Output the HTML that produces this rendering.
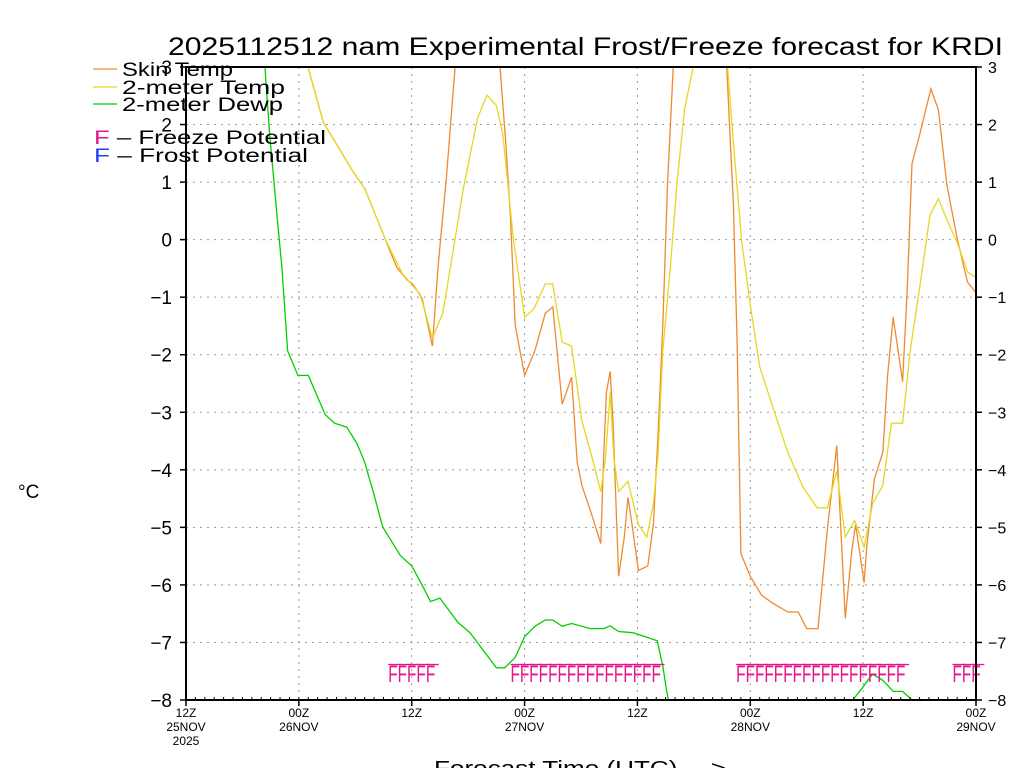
<!DOCTYPE html>
<html><head><meta charset="utf-8"><style>
body{margin:0;background:#fff;}
svg{display:block;font-family:"Liberation Sans",sans-serif;}
</style></head><body>
<svg id="chart" width="1024" height="768" viewBox="0 0 1024 768" xmlns="http://www.w3.org/2000/svg">
<defs><clipPath id="plotclip"><rect x="186" y="67" width="790" height="633"/></clipPath></defs>
<text x="168" y="55" font-size="25" textLength="835" lengthAdjust="spacingAndGlyphs">2025112512 nam Experimental Frost/Freeze forecast for KRDI</text>
<g id="grid"></g>
<g id="series" clip-path="url(#plotclip)"></g>
<g id="marks"></g>
<rect x="186" y="67" width="790" height="633" fill="none" stroke="#000" stroke-width="2"/>
<g id="axes"></g>
<text x="18" y="498" font-size="19">°C</text>
<text x="434" y="775" font-size="20" textLength="292" lengthAdjust="spacingAndGlyphs">Forecast Time (UTC) ---&gt;</text>
<g>
<line x1="93" y1="69" x2="117" y2="69" stroke="#f08a30" stroke-width="1.2"/>
<text x="122" y="76" font-size="19" textLength="111" lengthAdjust="spacingAndGlyphs">Skin Temp</text>
<line x1="93" y1="87" x2="117" y2="87" stroke="#e6d820" stroke-width="1.2"/>
<text x="122" y="94" font-size="19" textLength="163" lengthAdjust="spacingAndGlyphs">2-meter Temp</text>
<line x1="93" y1="104" x2="117" y2="104" stroke="#00d000" stroke-width="1.2"/>
<text x="122" y="111" font-size="19" textLength="161" lengthAdjust="spacingAndGlyphs">2-meter Dewp</text>
<text x="94" y="144" font-size="19" textLength="232" lengthAdjust="spacingAndGlyphs"><tspan fill="#e8148c">F</tspan> – Freeze Potential</text>
<text x="94" y="162" font-size="19" textLength="214" lengthAdjust="spacingAndGlyphs"><tspan fill="#2040ff">F</tspan> – Frost Potential</text>
</g>
</svg>
<script>
const tempHours=[13,14.6,17.8,19,21.2,23,24.9,26.2,27.3,29.5,31,32,33,33.7,34.8,36,37,38.2,39,40,41,42.1,43.2,44.1,44.6,45.1,45.5,46,47,48.1,49,49.7,50.2,50.7,51.5,52.2,53,53.9,55.5,57.6,58.2,59.1,60,61,62.3,63.9,65.6,67.1,68.2,69.2,70.1,71.1,72.1,73,74.1,75,76.2,77,78,79.1,80,81,82,83.1,84];
const tempVals=[2.98,2.04,1.17,0.89,0,-0.59,-0.95,-1.71,-1.28,0.89,2.11,2.51,2.33,1.82,0.02,-1.35,-1.2,-0.77,-0.77,-1.78,-1.85,-3.15,-3.8,-4.38,-3.8,-2.65,-3.8,-4.38,-4.2,-4.95,-5.17,-4.59,-3.73,-1.93,-0.48,0.96,2.26,2.98,5,2.98,1.68,-0.05,-1.13,-2.21,-2.86,-3.66,-4.3,-4.66,-4.66,-4.02,-5.17,-4.88,-5.35,-4.59,-4.27,-3.19,-3.19,-1.93,-0.84,0.42,0.71,0.31,-0.05,-0.56,-0.66];
const skinHours=[13,14.6,17.8,19,21.2,22.4,23.5,24.1,25.1,26.2,26.8,27.7,28.6,31,33.4,34,34.5,35,36,37.1,38.2,39,40,41,41.6,42.1,43.2,44.1,44.4,44.7,45.1,45.4,46,46.6,47,47.5,48.1,49.1,49.7,50.2,50.7,51.2,51.8,55,57.5,58.2,58.6,59,60,61.2,62.4,64,65.1,66,67.2,68.2,69.2,69.6,70.1,70.8,71.2,72.1,72.4,73.2,74.1,74.6,75.2,76.2,76.7,77.2,78,79.2,80,80.9,82,83.1,84];
const skinVals=[2.98,2.04,1.17,0.89,0,-0.48,-0.7,-0.77,-1.02,-1.85,-0.48,1.1,2.98,6,2.98,1.68,0.38,-1.49,-2.36,-1.93,-1.28,-1.17,-2.86,-2.39,-3.87,-4.27,-4.81,-5.28,-3.8,-2.65,-2.29,-3.15,-5.85,-5.17,-4.48,-5.03,-5.75,-5.67,-4.95,-3.37,-1.49,0.96,2.98,6,2.98,0.6,-1.78,-5.46,-5.85,-6.18,-6.32,-6.47,-6.47,-6.76,-6.76,-5.03,-3.58,-4.95,-6.58,-5.39,-4.95,-5.96,-5.31,-4.16,-3.69,-2.36,-1.35,-2.47,-0.84,1.32,1.82,2.62,2.26,0.96,0.02,-0.74,-0.92];
const dewHours=[8.4,8.9,9.7,10.2,10.8,11.9,13,14.8,15.8,17.1,18.2,19,19.9,20.9,22.8,24,25.1,26,27,28.9,30.2,33,33.9,35,36,37.1,38.2,39,40,41,43,44.4,45.1,46,47.5,48.1,50.1,50.7,51.1,51.3,60,70.9,72,73,74.1,75.2,76.2,77.2,78];
const dewVals=[2.98,1.82,0.38,-0.48,-1.93,-2.36,-2.36,-3.04,-3.19,-3.26,-3.55,-3.87,-4.38,-4.99,-5.49,-5.67,-6,-6.29,-6.23,-6.65,-6.83,-7.44,-7.44,-7.26,-6.9,-6.72,-6.61,-6.61,-6.72,-6.67,-6.76,-6.76,-6.71,-6.81,-6.83,-6.86,-6.97,-7.41,-7.84,-8,-9,-8,-7.77,-7.55,-7.66,-7.85,-7.85,-8,-9];
const freezeHours=[22,23,24,25,26,35,36,37,38,39,40,41,42,43,44,45,46,47,48,49,50,59,60,61,62,63,64,65,66,67,68,69,70,71,72,73,74,75,76,82,83,84];
const yTicks=[3,2,1,0,-1,-2,-3,-4,-5,-6,-7,-8];
const xTickHours=[0,12,24,36,48,60,72,84];
const xTickLabels=[["12Z","25NOV","2025"],["00Z","26NOV"],["12Z"],["00Z","27NOV"],["12Z"],["00Z","28NOV"],["12Z"],["00Z","29NOV"]];

const NS="http://www.w3.org/2000/svg";
const X0=186,X1=976,Y0=67,Y1=700,HMAX=84,VMAX=3,VMIN=-8;
function xs(h){return X0+(X1-X0)*h/HMAX;}
function ys(v){return Y0+(Y1-Y0)*(VMAX-v)/(VMAX-VMIN);}
function mk(tag,attrs,parent){const e=document.createElementNS(NS,tag);for(const k in attrs)e.setAttribute(k,attrs[k]);parent.appendChild(e);return e;}
const grid=document.getElementById('grid'),series=document.getElementById('series'),axes=document.getElementById('axes'),marks=document.getElementById('marks');
yTicks.forEach(v=>{
  const y=ys(v);
  if(v<VMAX&&v>VMIN){const g=mk('line',{x1:X0,x2:X1,y1:y,y2:y,stroke:'#999','stroke-dasharray':'2,5','stroke-width':1},grid);
  
  }
  const t1=mk('line',{x1:X0-6,x2:X0,y1:y,y2:y,stroke:'#000','stroke-width':1.5},axes);
  
  
  const t2=mk('line',{x1:X1,x2:X1+6,y1:y,y2:y,stroke:'#000','stroke-width':1.5},axes);
  
  
  const lbl=v<0?'\u2212'+Math.abs(v):String(v);
  const l=mk('text',{x:X0-14,y:y+7,'font-size':19,'text-anchor':'end'},axes);l.textContent=lbl;
  
  
  const r=mk('text',{x:X1+12,y:y+6,'font-size':16},axes);r.textContent=lbl;
  
  
});
xTickHours.forEach((h,i)=>{
  const x=xs(h);
  if(h>0&&h<HMAX){const g=mk('line',{x1:x,x2:x,y1:Y0,y2:Y1,stroke:'#999','stroke-dasharray':'2,5','stroke-width':1},grid);
  
  }
  const tk=mk('line',{x1:x,x2:x,y1:Y1,y2:Y1+6,stroke:'#000','stroke-width':1.5},axes);
  
  
  xTickLabels[i].forEach((s,j)=>{const t=mk('text',{x:x,y:717+j*14,'font-size':12,'text-anchor':'middle'},axes);t.textContent=s;
  
  });
});
for(let h=1;h<HMAX;h++){const x=xs(h);const t=mk('line',{x1:x,x2:x,y1:Y1,y2:Y1-3,stroke:'#000','stroke-width':1},axes);

}
function drawLine(hs,vs,color,name){
  const p=hs.map((h,i)=>xs(h).toFixed(1)+','+ys(vs[i]).toFixed(1)).join(' ');
  const pl=mk('polyline',{points:p,fill:'none',stroke:color,'stroke-width':1.3},series);
  
  
}
drawLine(skinHours,skinVals,'#f08a30','skin-temp-line');
drawLine(tempHours,tempVals,'#e6d820','2m-temp-line');
drawLine(dewHours,dewVals,'#00d000','2m-dewp-line');
freezeHours.forEach(h=>{
  const x=xs(h)-4.7;
  const t=mk('text',{x:x,y:682,'font-size':24,fill:'#e8148c','font-family':'Liberation Sans, sans-serif',textLength:9.4,lengthAdjust:'spacingAndGlyphs'},marks);
  t.textContent='F';
  
  
  const b=mk('line',{x1:x,x2:x+13,y1:664.5,y2:664.5,stroke:'#e8148c','stroke-width':1.3},marks);
  
  
});
</script>
</body></html>
